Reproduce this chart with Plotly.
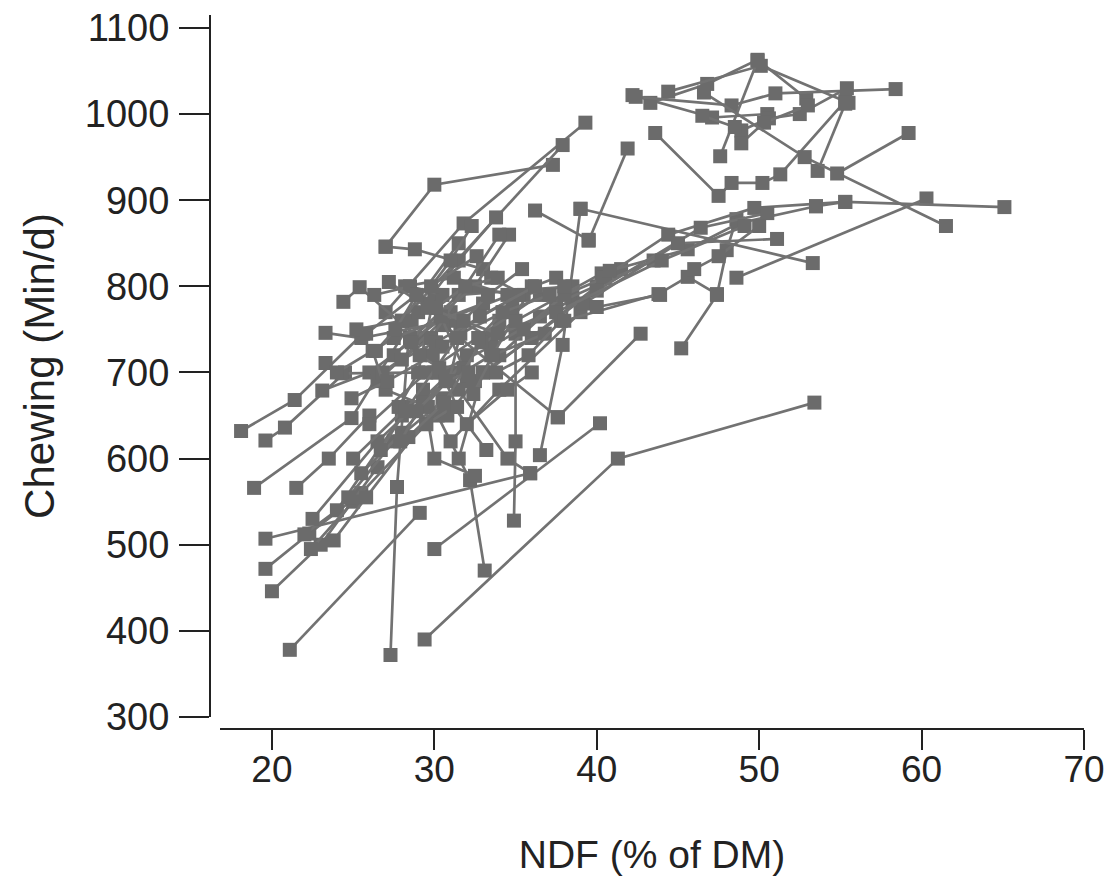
import plotly.graph_objects as go

# Each study: NDF (% of DM) values and matching chewing time (min/d)
ndf = [
    # left / lower outliers
    [18.1, 21.4, 25.6], [19.6, 20.8, 24.5], [18.9, 24.9, 28.6], [21.5, 23.5, 26.0],
    [19.6, 35.9], [19.6, 22.3, 25.5], [20.0, 23.0, 26.5], [21.1, 29.1],
    [27.3, 27.7, 28.5], [29.4, 41.3, 53.4], [30.0, 40.2], [33.1, 32.2, 30.2],
    [34.9, 35.0, 35.0], [36.5, 37.9, 39.0], [37.6, 42.7], [30.6, 37.6],
    # right band
    [45.2, 47.4, 48.0, 48.6], [48.6, 60.3], [53.5, 55.3, 65.1], [39.0, 53.3],
    [39.5, 41.9], [36.2, 39.5], [27.0, 30.0, 37.3], [27.0, 31.8, 39.3],
    [28.0, 37.9], [27.0, 28.8, 33.0], [24.4, 25.4, 29.0], [23.3, 25.5, 31.0],
    [23.3, 24.3, 30.0], [23.1, 26.0, 31.0], [22.0, 24.0, 28.0], [22.5, 26.5, 31.0],
    [22.4, 25.0, 29.5], [23.8, 25.8, 30.5], [24.7, 27.5, 32.0], [25.0, 28.3, 33.5],
    [25.5, 28.0, 34.0], [26.0, 29.5, 36.5], [26.5, 30.5, 37.5], [27.5, 31.5, 38.5],
    [28.5, 32.5, 34.6], [29.0, 31.5, 33.8], [28.2, 31.2, 34.5], [29.7, 33.5, 36.5],
    [30.2, 33.5, 38.5], [30.8, 32.5, 40.0], [31.0, 34.0, 39.0], [31.5, 33.0, 36.0],
    [29.3, 30.0, 32.5], [27.8, 29.0, 30.0], [26.8, 29.8, 34.0], [25.2, 28.0, 31.5],
    [26.3, 28.5, 30.5], [24.0, 27.5, 33.0], [29.5, 31.2, 33.2], [32.0, 35.0, 40.3],
    [33.0, 36.0, 41.5], [34.0, 37.5, 43.5], [35.5, 38.0, 40.5], [33.5, 35.5, 38.0],
    [36.0, 34.5, 32.0], [31.5, 34.5, 35.9], [28.6, 30.4, 31.8], [30.9, 31.6, 34.8],
    [26.2, 27.0, 29.6], [28.4, 30.6, 32.9], [32.4, 33.6, 36.8],
    [25.8, 28.9, 32.6], [27.2, 29.6, 33.9], [28.0, 30.1, 35.2], [29.8, 31.0, 32.3],
    [30.5, 32.8, 36.2], [26.7, 28.2, 31.4], [27.9, 29.3, 30.7], [31.8, 33.3, 35.4],
    [32.7, 34.2, 37.1], [24.9, 27.1, 29.9], [29.1, 30.3, 31.4], [33.8, 35.8, 37.8],
    [28.9, 30.7, 32.1], [30.1, 31.9, 33.9], [26.4, 27.6, 28.9],
    # right middle band
    [40.4, 44.4, 49.7, 55.3], [40.8, 45.6, 48.7, 53.5], [40.0, 46.4, 50.5],
    [39.2, 45.0, 51.1], [37.5, 44.0, 49.1], [38.0, 43.8, 45.6, 47.4],
    [46.0, 47.5, 50.0], [40.0, 43.9],
    # top-right cluster
    [42.2, 47.1, 50.5], [43.3, 46.8, 49.9, 52.9], [44.4, 50.1, 55.5],
    [42.4, 48.3, 51.0, 58.4], [47.6, 49.9], [43.6, 47.5, 48.3, 50.2, 51.3, 55.3],
    [48.9, 50.6, 52.5, 55.4], [48.9, 50.3, 53.0], [46.5, 48.5], [53.6, 55.3],
    [46.6, 52.8, 61.5], [54.8, 59.2],
]

chewing = [
    [632, 668, 745], [621, 636, 700], [566, 647, 760], [566, 600, 650],
    [507, 583], [472, 513, 560], [446, 500, 590], [378, 537],
    [372, 567, 760], [390, 600, 665], [495, 641], [470, 575, 650],
    [528, 620, 745], [604, 732, 890], [648, 745], [755, 648],
    [728, 790, 842, 878], [810, 902], [893, 898, 892], [890, 827],
    [853, 960], [888, 854], [846, 918, 941], [770, 873, 990],
    [760, 964], [846, 843, 820], [782, 799, 740], [746, 740, 760],
    [711, 699, 700], [679, 700, 770], [512, 540, 650], [530, 620, 700],
    [495, 550, 640], [505, 555, 670], [555, 620, 690], [600, 660, 720],
    [583, 630, 760], [640, 700, 790], [690, 760, 810], [720, 790, 800],
    [740, 800, 860], [770, 830, 880], [800, 810, 790], [780, 740, 765],
    [700, 730, 785], [650, 690, 800], [620, 680, 770], [600, 700, 800],
    [680, 600, 580], [660, 700, 790], [700, 740, 860], [750, 760, 850],
    [790, 800, 790], [700, 740, 780], [640, 660, 610], [720, 760, 815],
    [700, 740, 820], [720, 780, 830], [750, 790, 810], [810, 790, 800],
    [700, 680, 640], [680, 600, 583], [735, 765, 705], [690, 745, 775],
    [725, 680, 660], [625, 665, 735], [675, 720, 745],
    [745, 790, 835], [805, 775, 745], [715, 735, 790], [800, 830, 870],
    [730, 765, 800], [610, 655, 740], [620, 665, 690], [760, 790, 820],
    [740, 770, 790], [670, 690, 720], [720, 705, 660], [700, 720, 760],
    [655, 690, 700], [775, 800, 810], [725, 750, 790],
    [810, 860, 891, 898], [818, 843, 873, 893], [795, 868, 885],
    [780, 850, 855], [770, 830, 870], [760, 791, 811, 791],
    [820, 835, 870], [776, 790],
    [1022, 996, 1000], [1013, 1035, 1063, 1018], [1026, 1056, 1013],
    [1020, 1010, 1024, 1029], [951, 1062], [978, 905, 920, 920, 930, 1015],
    [981, 995, 1000, 1030], [966, 990, 1010], [998, 985], [934, 1012],
    [1025, 950, 870], [931, 978],
]

x_ticks = [20, 30, 40, 50, 60, 70]
y_ticks = [300, 400, 500, 600, 700, 800, 900, 1000, 1100]

GREY = "#6b6b6b"
fig = go.Figure()
for xs, ys in zip(ndf, chewing):
    fig.add_trace(go.Scatter(
        x=xs, y=ys, mode="lines+markers",
        line=dict(color="#727272", width=2.7),
        marker=dict(symbol="square", size=14, color=GREY),
        showlegend=False, hoverinfo="x+y",
    ))

font_family = "Liberation Sans, Arial, sans-serif"
fig.update_layout(
    width=1107, height=886,
    margin=dict(l=210, r=23, t=15, b=157, autoexpand=False),
    paper_bgcolor="white", plot_bgcolor="white",
    font=dict(family=font_family, color="#222222"),
    xaxis=dict(
        range=[16.8, 70], domain=[0.0114, 1], anchor="free", position=0,
        tickmode="array", tickvals=x_ticks, automargin=False,
        showline=True, linecolor="#222222", linewidth=2,
        ticks="outside", ticklen=20, tickwidth=2, tickcolor="#222222",
        showgrid=False, zeroline=False,
        tickfont=dict(size=37), ticklabelstandoff=-12,
        title=dict(text="NDF (% of DM)", font=dict(size=39), standoff=50),
    ),
    yaxis=dict(
        range=[300, 1115], domain=[0.0168, 1], anchor="free", position=0,
        tickmode="array", tickvals=y_ticks, automargin=False,
        showline=True, linecolor="#222222", linewidth=2,
        ticks="outside", ticklen=30, tickwidth=2, tickcolor="#222222",
        showgrid=False, zeroline=False,
        tickfont=dict(size=38), ticklabelstandoff=2,
        title=dict(text="Chewing (Min/d)", font=dict(size=42), standoff=16),
    ),
)

fig.write_html("out.html")
